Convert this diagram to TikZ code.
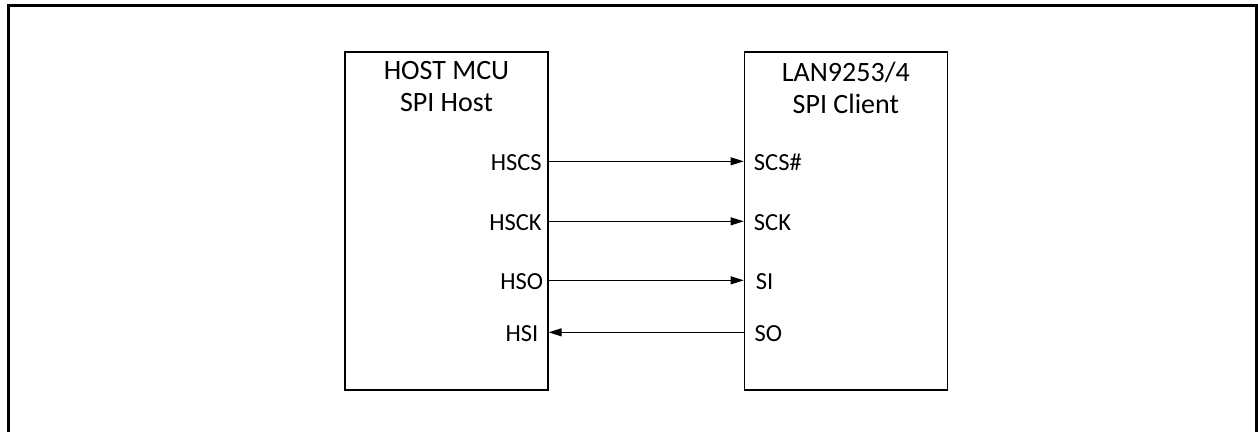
\documentclass[tikz,border=0pt]{standalone}
\usepackage{fontspec}
\setmainfont{Carlito}
\usepackage{tikz}
\usetikzlibrary{arrows.meta,positioning}

\begin{document}
\begin{tikzpicture}[
  x=0.75pt, y=-0.75pt,
  chip/.style={draw, line width=1pt, minimum width=152.25pt, minimum height=253.5pt, inner sep=0pt},
  title/.style={align=center, inner sep=0pt, font=\fontsize{21}{24}\selectfont},
  pin/.style={inner sep=0pt, text height=13.5pt, text depth=0pt, font=\fontsize{18.4}{21}\selectfont},
  sig/.style={-{Triangle[length=9.75pt,width=6pt]}, line width=0.75pt}
]
  \useasboundingbox (0,0) rectangle (1258,432);
  \draw[line width=2.25pt] (8,440) -- (8,5) -- (1256,5) -- (1256,440);

  \node[chip] (host) at (446.5,221) {};
  \node[chip, right=146.25pt of host] (client) {};

  \node[title, anchor=north, yshift=-7.5pt] (hosttitle) at (host.north) {HOST MCU\\SPI Host};
  \node[title, anchor=north, yshift=-7.5pt] (clienttitle) at (client.north) {LAN9253/4\\SPI Client};

  % host side pins
  \node[pin, anchor=east] (hscs) at ([shift={(-5pt,-82.5pt)}]host.north east) {HSCS};
  \node[pin, anchor=east] (hsck) at ([shift={(-5pt,-127.5pt)}]host.north east) {HSCK};
  \node[pin, anchor=east] (hso) at ([shift={(-4pt,-171.75pt)}]host.north east) {HSO};
  \node[pin, anchor=east] (hsi) at ([shift={(-7.5pt,-210.75pt)}]host.north east) {HSI};

  % client side pins
  \node[pin, anchor=west, xshift=7.5pt] (scs) at (client.west |- hscs) {SCS\#};
  \node[pin, anchor=west, xshift=7.5pt] (sck) at (client.west |- hsck) {SCK};
  \node[pin, anchor=west, xshift=9pt] (si) at (client.west |- hso) {SI};
  \node[pin, anchor=west, xshift=8pt] (so) at (client.west |- hsi) {SO};

  \draw[sig] (host.east |- hscs) -- (client.west |- scs);
  \draw[sig] (host.east |- hsck) -- (client.west |- sck);
  \draw[sig] (host.east |- hso) -- (client.west |- si);
  \draw[sig] (client.west |- so) -- (host.east |- hsi);
\end{tikzpicture}
\end{document}
